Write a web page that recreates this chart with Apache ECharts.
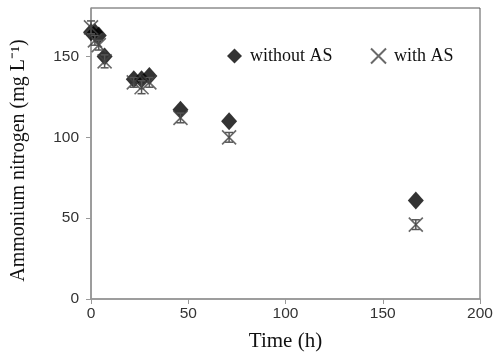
<!DOCTYPE html>
<html>
<head>
<meta charset="utf-8">
<script src="https://cdn.jsdelivr.net/npm/echarts@6/dist/echarts.min.js"></script>
<style>
html, body { margin: 0; padding: 0; background: #fff; }
#main { width: 498px; height: 357px; }
</style>
</head>
<body>
<div id="main"></div>
<script>
// time (h)
const timeData = [0, 2, 4, 7, 22, 26, 30, 46, 71, 167];
const withoutAS = [165, 165, 163, 150, 136, 136, 138, 117, 110, 61];
const withAS = [168, 160, 157, 147, 134, 131, 134, 112, 100, 46];
const withASErr = [4, 3, 3, 4, 3, 4, 3, 3, 3, 3];
const xTicks = [0, 50, 100, 150, 200];
const yTicks = [0, 50, 100, 150];

let myChart = echarts.init(document.getElementById('main'));

const crossPath = 'path://M0,0L10,10M10,0L0,10';

let option = {
	backgroundColor: '#fff',
	animation: false,
	grid: {
		left: 91,
		right: 18,
		top: 8,
		bottom: 58,
		show: true,
		borderColor: '#555',
		borderWidth: 1
	},
	legend: {
		left: 222,
		top: 41,
		itemWidth: 15,
		itemHeight: 15,
		itemGap: 36,
		textStyle: {
			fontFamily: 'Liberation Serif',
			fontSize: 18,
			color: '#111',
			padding: [0, 0, 0, 3]
		},
		data: [{
			name: 'without AS',
			icon: 'diamond'
		}, {
			name: 'with AS',
			icon: crossPath
		}]
	},
	xAxis: {
		type: 'value',
		min: 0,
		max: 200,
		interval: 50,
		name: 'Time (h)',
		nameLocation: 'middle',
		nameGap: 32,
		nameTextStyle: {
			fontFamily: 'Liberation Serif',
			fontSize: 21,
			color: '#111'
		},
		splitLine: { show: false },
		axisLine: { lineStyle: { color: '#999', width: 1.5 } },
		axisTick: { show: true, length: 5, lineStyle: { color: '#999' }, customValues: xTicks },
		axisLabel: {
			customValues: xTicks,
			fontFamily: 'Liberation Sans',
			fontSize: 15.5,
			color: '#333',
			margin: 7
		}
	},
	yAxis: {
		type: 'value',
		min: 0,
		max: 180,
		interval: 50,
		name: 'Ammonium nitrogen (mg L\u207B\u00B9)',
		nameLocation: 'middle',
		nameGap: 62,
		nameTextStyle: {
			fontFamily: 'Liberation Serif',
			fontSize: 20,
			color: '#111',
			padding: [0, 14, 0, 0]
		},
		splitLine: { show: false },
		axisLine: { lineStyle: { color: '#999', width: 1.5 } },
		axisTick: { show: true, length: 5, lineStyle: { color: '#999' }, customValues: yTicks },
		axisLabel: {
			customValues: yTicks,
			fontFamily: 'Liberation Sans',
			fontSize: 15.5,
			color: '#333',
			margin: 12
		}
	},
	series: [{
		name: 'without AS',
		type: 'scatter',
		symbol: 'diamond',
		symbolSize: [16, 18],
		itemStyle: { color: '#000' },
		data: timeData.map((t, i) => [t, withoutAS[i]])
	}, {
		name: 'errors',
		type: 'custom',
		z: 3,
		renderItem: function(params, api) {
			const x = api.value(0);
			const lo = api.coord([x, api.value(1)]);
			const hi = api.coord([x, api.value(2)]);
			const w = 4;
			const style = { stroke: '#555', lineWidth: 1.5 };
			return {
				type: 'group',
				children: [{
					type: 'line', shape: { x1: lo[0], y1: lo[1], x2: hi[0], y2: hi[1] }, style: style
				}, {
					type: 'line', shape: { x1: lo[0] - w, y1: lo[1], x2: lo[0] + w, y2: lo[1] }, style: style
				}, {
					type: 'line', shape: { x1: hi[0] - w, y1: hi[1], x2: hi[0] + w, y2: hi[1] }, style: style
				}]
			};
		},
		data: timeData.map((t, i) => [t, withAS[i] - withASErr[i], withAS[i] + withASErr[i]])
	}, {
		name: 'with AS',
		type: 'scatter',
		symbol: crossPath,
		symbolSize: 14,
		z: 4,
		itemStyle: { color: 'none', borderColor: '#444', borderWidth: 1.6 },
		data: timeData.map((t, i) => [t, withAS[i]])
	}]
};

myChart.setOption(option);
</script>
</body>
</html>
